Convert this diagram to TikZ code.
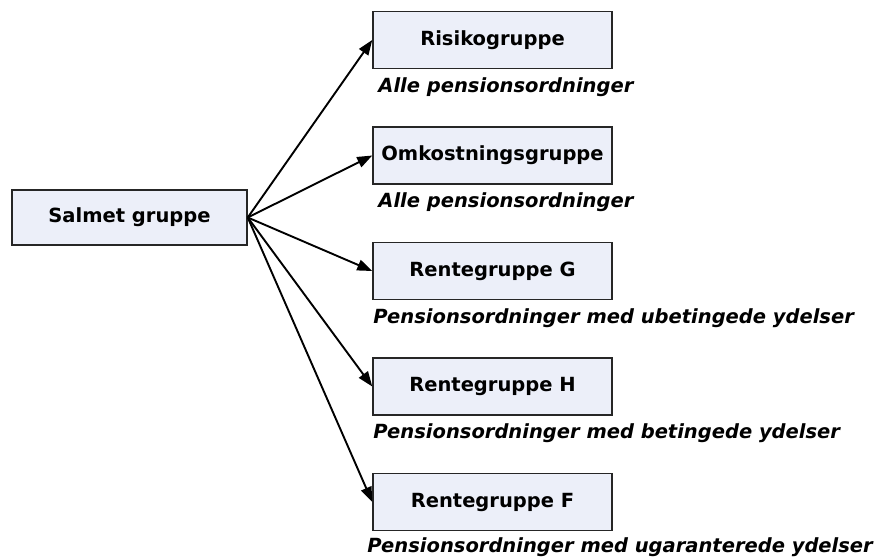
\documentclass[tikz,border=0pt]{standalone}
\usepackage{fontspec}
\setmainfont{DejaVu Sans}
\newfontfamily\notefont{DejaVu Sans}
\usetikzlibrary{arrows.meta,positioning}
\definecolor{groupfill}{RGB}{236,239,249}

\begin{document}
\begin{tikzpicture}[x=1pt, y=-1pt, group/.style = {rectangle, draw=black!85, line width=1.5pt, fill=groupfill, minimum width=239pt, minimum height=57pt, font=\bfseries\fontsize{19.5}{23}\selectfont}, note/.style = {anchor=base west, inner sep=0pt, font=\notefont\bfseries\itshape\fontsize{19.5}{23}\selectfont}, link/.style = {line width=1.9pt, -{Triangle[length=15pt,width=11pt]}}]
	\useasboundingbox (0,0) rectangle (879,558);
	\node[group, minimum width=235pt, minimum height=55pt] (salmet) at (129.5,217.5) {Salmet gruppe};
	\node[group] (risiko) at (492.5,40) {Risikogruppe};
	\node[group] (omk) at (492.5,155.5) {Omkostningsgruppe};
	\node[group] (renteG) at (492.5,271) {Rentegruppe G};
	\node[group] (renteH) at (492.5,386.5) {Rentegruppe H};
	\node[group] (renteF) at (492.5,502) {Rentegruppe F};
	% beskrivelser
	\node[note] (risikoTxt) at ([shift={(6,23)}]risiko.south west) {Alle pensionsordninger};
	\node[note] (omkTxt) at ([shift={(6,23)}]omk.south west) {Alle pensionsordninger};
	\node[note] (renteGTxt) at ([shift={(1,23)}]renteG.south west) {Pensionsordninger med ubetingede ydelser};
	\node[note] (renteHTxt) at ([shift={(1,23)}]renteH.south west) {Pensionsordninger med betingede ydelser};
	\node[note] (renteFTxt) at ([shift={(-5,21)}]renteF.south west) {Pensionsordninger med ugaranterede ydelser};
	% pile
	\draw[link] (salmet.east) to (risiko.west);
	\draw[link] (salmet.east) to (omk.west);
	\draw[link] (salmet.east) to (renteG.west);
	\draw[link] (salmet.east) to (renteH.west);
	\draw[link] (salmet.east) to (renteF.west);
\end{tikzpicture}
\end{document}
